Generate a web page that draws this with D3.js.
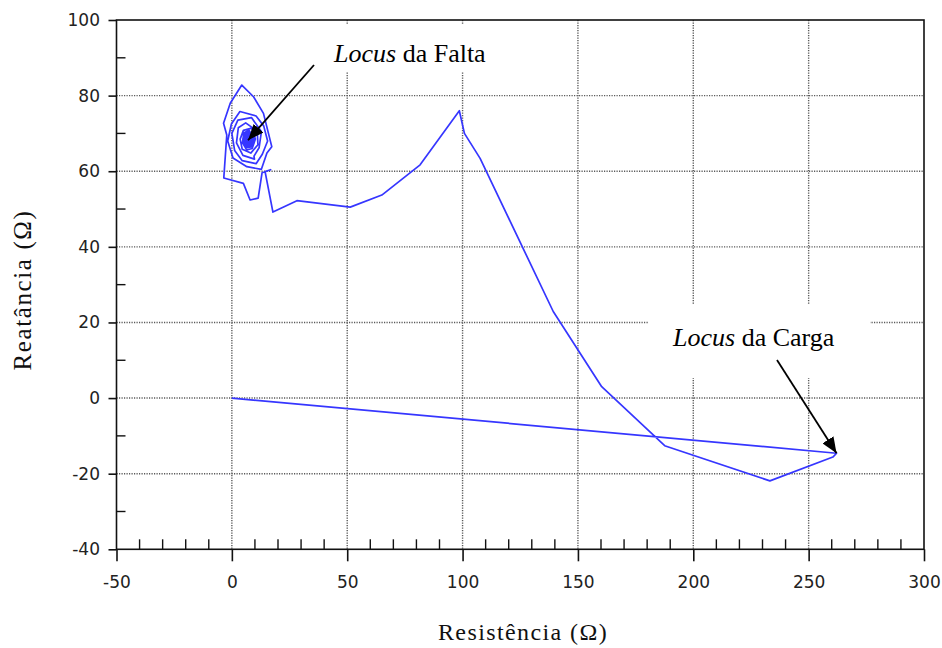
<!DOCTYPE html>
<html><head><meta charset="utf-8">
<script src="https://cdn.jsdelivr.net/npm/d3@7"></script>
<style>body{margin:0;background:#fff}</style>
</head><body>
<svg id="c" width="942" height="648"></svg>
<script>
// Impedance trajectory: resistance (Ω) and reactance (Ω)
const resistance = [0, 262.1, 260.5, 233.2, 187.6, 160.3, 139.3, 107.6, 100.8, 98.6,
  81.6, 65.0, 51.3, 28.2, 17.8, 14.4, 16.8, 13.1, 11.4, 7.9, 5.0, -3.5, -2.2, -3.6, -0.7,
  4.3, 9.4, 13.7, 17.3, 15.2,
  12.8, 6.5, 0.5, -1.8, -0.2, 3.5, 10.5, 13.8, 15.5, 13.2,
  10.5, 4.5, 1.2, 0.0, 2.6, 8.5, 12.8, 11.8, 9.6,
  9.8, 4.8, 2.0, 2.8, 6.0, 11.0, 11.3,
  8.2, 4.5, 3.6, 5.0, 8.6, 10.2, 8.8,
  6.5, 4.6, 5.2, 7.5, 9.4, 8.2,
  6.4, 5.2, 6.0, 8.2, 8.9, 7.2,
  5.8, 5.5, 7.0, 8.6, 8.0, 6.2, 6.0, 7.5, 8.3, 7.2, 6.2, 6.6, 7.8, 7.6, 6.6, 6.8, 7.4, 7.1,
  5.4, 4.8, 6.2, 8.8, 9.6, 8.4, 6.0, 4.9, 5.6, 7.8, 9.2, 8.5, 6.4, 5.3, 6.1, 8.0, 8.7, 7.3, 6.0, 6.3, 7.6, 7.9, 7.0];
const reactance = [0, -14.6, -15.6, -21.9, -12.6, 3.0, 22.9, 63.4, 70.0, 76.0,
  61.7, 53.7, 50.5, 52.2, 49.2, 59.9, 60.4, 59.6, 52.9, 52.4, 56.8, 58.2, 69.6, 72.7, 78.0,
  82.8, 79.7, 75.3, 66.5, 64.8,
  60.5, 61.2, 63.5, 68.0, 72.5, 75.8, 74.6, 72.0, 68.0, 64.5,
  62.0, 62.8, 65.5, 70.0, 73.5, 74.2, 70.5, 66.2, 64.0,
  63.2, 64.2, 67.5, 71.5, 72.8, 70.6, 67.0,
  64.8, 65.8, 68.5, 70.8, 71.4, 68.5, 66.0,
  65.6, 67.5, 70.2, 70.8, 68.8, 66.5,
  66.4, 68.0, 70.0, 70.0, 68.0, 66.6,
  67.2, 69.2, 70.0, 69.0, 67.0, 67.0, 69.4, 69.5, 68.0, 67.2, 68.2, 69.2, 68.6, 67.5, 67.9, 68.8, 68.3, 68.1,
  66.8, 68.6, 70.4, 70.2, 68.4, 66.4, 66.2, 67.8, 69.8, 70.0, 68.6, 66.9, 66.6, 68.2, 69.6, 69.3, 67.8, 66.9, 67.7, 69.1, 69.0, 67.9, 68.2];

const xTicks = [-50, 0, 50, 100, 150, 200, 250, 300];
const yTicks = [-40, -20, 0, 20, 40, 60, 80, 100];
const xTitle = "Resistência (Ω)";
const yTitle = "Reatância (Ω)";
const faltaLabel = ["Locus", " da Falta"];
const cargaLabel = ["Locus", " da Carga"];
const faltaPoint = [7.0, 68.2];
const cargaPoint = [262.1, -14.6];

const svg = d3.select("#c");
const L = 116.5, R = 924, T = 20, B = 549.3;
const x = d3.scaleLinear().domain([-50, 300]).range([L, R]);
const y = d3.scaleLinear().domain([-40, 100]).range([B, T]);

svg.append("rect").attr("width", 942).attr("height", 648).attr("fill", "#fff");

// grid
const grid = svg.append("g").attr("stroke", "#5a5a5a").attr("stroke-width", 1.4)
  .attr("stroke-dasharray", "1.2,1.3");
grid.selectAll("line.v").data(xTicks.slice(1, -1)).join("line")
  .attr("x1", d => x(d)).attr("x2", d => x(d)).attr("y1", T).attr("y2", B);
grid.selectAll("line.h").data(yTicks.slice(1, -1)).join("line")
  .attr("y1", d => y(d)).attr("y2", d => y(d)).attr("x1", L).attr("x2", R);

// white label boxes
svg.append("rect").attr("x", 326).attr("y", 24).attr("width", 182).attr("height", 48).attr("fill", "#fff");
svg.append("rect").attr("x", 648).attr("y", 304).attr("width", 222).attr("height", 74).attr("fill", "#fff");

// data line
const line = d3.line().x(d => x(d[0])).y(d => y(d[1]));
const pts = resistance.map((r, i) => [r, reactance[i]]);
svg.append("path").datum(pts).attr("d", line).attr("fill", "none")
  .attr("stroke", "#3636ff").attr("stroke-width", 1.7).attr("stroke-linejoin", "round");

// axes
const tickFont = "'DejaVu Sans', Verdana, sans-serif";
const fmt = d => String(d);
const xa = svg.append("g").attr("transform", `translate(0,${B})`)
  .call(d3.axisBottom(x).tickValues(xTicks).tickFormat(fmt).tickSizeInner(12).tickSizeOuter(0).tickPadding(14.5));
const ya = svg.append("g").attr("transform", `translate(${L},0)`)
  .call(d3.axisLeft(y).tickValues(yTicks).tickFormat(fmt).tickSizeInner(8).tickSizeOuter(0).tickPadding(8.5));
[xa, ya].forEach(a => {
  a.select(".domain").remove();
  a.selectAll("line").attr("stroke", "#111").attr("stroke-width", 1.6);
  a.selectAll("text").attr("font-family", tickFont).attr("font-size", 17).attr("fill", "#222");
});

// minor ticks
const xMinor = d3.range(-40, 300, 10).filter(v => v % 50 !== 0);
const yMinor = d3.range(-30, 100, 20);
svg.append("g").selectAll("line").data(xMinor).join("line")
  .attr("x1", d => x(d)).attr("x2", d => x(d)).attr("y1", B).attr("y2", B - 10)
  .attr("stroke", "#111").attr("stroke-width", 1.4);
svg.append("g").selectAll("line").data(yMinor).join("line")
  .attr("y1", d => y(d)).attr("y2", d => y(d)).attr("x1", L).attr("x2", L + 9)
  .attr("stroke", "#111").attr("stroke-width", 1.4);

// frame
svg.append("rect").attr("x", L).attr("y", T).attr("width", R - L).attr("height", B - T)
  .attr("fill", "none").attr("stroke", "#111").attr("stroke-width", 1.6);

// titles
const serif = "'Liberation Serif', 'Times New Roman', serif";
svg.append("text").attr("x", 523).attr("y", 640).attr("text-anchor", "middle")
  .attr("font-family", serif).attr("font-size", 24).attr("letter-spacing", 1.4)
  .attr("fill", "#111").text(xTitle);
svg.append("text").attr("transform", "translate(31,290) rotate(-90)").attr("text-anchor", "middle")
  .attr("font-family", serif).attr("font-size", 25).attr("letter-spacing", 1.6)
  .attr("fill", "#111").text(yTitle);

// annotations
function label(parts, px, py) {
  const t = svg.append("text").attr("x", px).attr("y", py)
    .attr("font-family", serif).attr("font-size", 26).attr("fill", "#000");
  t.append("tspan").attr("font-style", "italic").text(parts[0]);
  t.append("tspan").text(parts[1]);
}
label(faltaLabel, 334, 62);
label(cargaLabel, 673, 346);

svg.append("defs").append("marker").attr("id", "ah")
  .attr("markerWidth", 16).attr("markerHeight", 13)
  .attr("viewBox", "0 0 16 13").attr("refX", 16).attr("refY", 6.5)
  .attr("markerUnits", "userSpaceOnUse").attr("orient", "auto")
  .append("path").attr("d", "M0,0L16,6.5L0,13z").attr("fill", "#000");

function arrow(x1, y1, tip) {
  svg.append("line").attr("x1", x1).attr("y1", y1)
    .attr("x2", x(tip[0])).attr("y2", y(tip[1]))
    .attr("stroke", "#000").attr("stroke-width", 1.8).attr("marker-end", "url(#ah)");
}
arrow(314, 65, faltaPoint);
arrow(777, 360, cargaPoint);
</script>
</body></html>
